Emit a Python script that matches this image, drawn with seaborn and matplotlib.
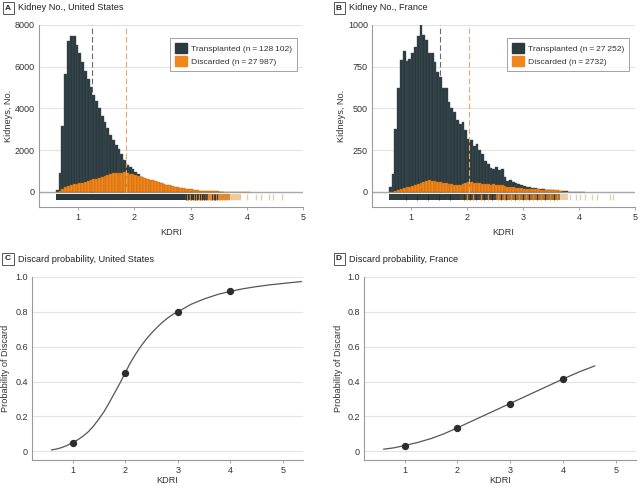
import numpy as np
import pandas as pd
import matplotlib
matplotlib.use("Agg")
import matplotlib.pyplot as plt
from matplotlib.patches import Patch
import seaborn as sns

sns.set_theme(style="white")
plt.rcParams['font.family'] = ['Liberation Sans Narrow', 'Liberation Sans', 'DejaVu Sans']

# ---------------- data ----------------
BIN_WIDTH = 0.05
BIN_START = 0.60

us_transplanted = [100, 900, 3150, 5650, 7250, 7480, 7450, 7050, 6650, 6250,
                   5800, 5400, 5050, 4650, 4350, 4000, 3650, 3350, 3050, 2750,
                   2500, 2250, 2050, 1800, 1550, 1300, 1200, 1100, 950, 850,
                   700, 600, 500, 420, 350, 300, 250, 210, 180, 150,
                   120, 100, 80, 70, 60, 50, 40, 30, 25, 20,
                   15, 12, 10, 8, 6, 5, 4, 3, 2, 2]
us_discarded = [10, 40, 120, 220, 290, 340, 370, 390, 420, 450,
                480, 520, 560, 600, 640, 680, 720, 760, 800, 850,
                900, 920, 910, 930, 940, 920, 880, 850, 820, 780,
                740, 690, 640, 590, 550, 510, 470, 430, 390, 350,
                320, 290, 260, 230, 200, 180, 160, 140, 120, 100,
                85, 70, 60, 50, 40, 35, 30, 25, 20, 15,
                12, 10, 8, 6, 5, 4, 3, 2, 2]

fr_transplanted = [30, 110, 380, 620, 790, 845, 785, 795, 830, 870,
                   935, 1000, 940, 910, 830, 835, 780, 720, 690, 620,
                   620, 540, 500, 480, 430, 410, 420, 370, 315, 310,
                   275, 285, 250, 230, 185, 165, 145, 135, 148, 132,
                   140, 92, 68, 72, 62, 52, 45, 40, 35, 30,
                   28, 25, 22, 20, 18, 15, 14, 12, 10, 6,
                   5, 4, 3, 3, 2, 2, 2, 1, 1, 1]
fr_discarded = [0, 2, 5, 10, 15, 22, 28, 32, 38, 42,
                48, 55, 62, 68, 70, 66, 64, 60, 62, 56,
                54, 48, 45, 42, 40, 44, 48, 55, 62, 58,
                54, 56, 52, 50, 48, 46, 44, 46, 44, 42,
                40, 36, 32, 30, 28, 25, 24, 22, 20, 19,
                18, 16, 16, 15, 14, 14, 13, 12, 12, 10,
                9, 5, 2]

us_median = {"Transplanted": 1.24, "Discarded": 1.84}
fr_median = {"Transplanted": 1.51, "Discarded": 2.04}

us_legend = ["Transplanted (n\u2009=\u2009128\u2009102)", "Discarded (n\u2009=\u200927\u2009987)"]
fr_legend = ["Transplanted (n\u2009=\u200927\u2009252)", "Discarded (n\u2009=\u20092732)"]

# rug (individual kidneys): dense bands and sparse ticks
us_rug_bands = [(0.60, 2.90, "#2b3a3f"), (2.90, 3.30, "#4a4136"), (3.30, 3.70, "#d8893a"), (3.70, 3.90, "#f3cfa6")]
us_rug_dark = [2.92, 2.96, 3.00, 3.04, 3.08, 3.12, 3.16, 3.20, 3.24, 3.28, 3.38, 3.41, 3.44, 3.47]
us_rug_orange = [2.94, 2.99, 3.06, 3.10, 3.14, 3.19, 3.23, 3.27, 3.31, 3.34, 3.36, 3.43, 3.50, 3.53, 3.56, 3.60, 3.63, 3.66]
us_rug_pale = [3.72, 3.76, 3.80, 3.84, 3.88, 4.00, 4.16, 4.25, 4.40, 4.47, 4.62]

fr_rug_bands = [(0.60, 1.87, "#33403f"), (1.87, 2.52, "#4f4536"), (2.52, 3.66, "#a86f33"), (3.66, 3.80, "#e9cfa8")]
fr_rug_dark = [0.9, 1.1, 1.3, 1.5, 1.7, 1.95, 2.05, 2.15, 2.3, 2.45, 2.6, 2.7, 2.85, 3.0, 3.1, 3.25, 3.4, 3.55]
fr_rug_orange = [2.0, 2.1, 2.25, 2.38, 2.55, 2.65, 2.78, 2.92, 3.05, 3.18, 3.32, 3.48, 3.6]
fr_rug_pale = [3.84, 3.95, 4.02, 4.11, 4.23, 4.32, 4.55, 4.60]

us_curve_kdri = [0.6, 0.7, 0.8, 0.9, 1.0, 1.1, 1.2, 1.3, 1.4, 1.5, 1.6, 1.7, 1.8, 1.9, 2.0,
                 2.1, 2.2, 2.3, 2.4, 2.5, 2.6, 2.7, 2.8, 2.9, 3.0, 3.25, 3.5, 3.75, 4.0,
                 4.25, 4.5, 4.75, 5.0, 5.35]
us_curve_prob = [0.008, 0.013, 0.022, 0.034, 0.05, 0.066, 0.087, 0.112, 0.145, 0.185, 0.228, 0.28,
                 0.335, 0.39, 0.45, 0.508, 0.558, 0.603, 0.643, 0.678, 0.709, 0.738, 0.763, 0.784,
                 0.80, 0.843, 0.874, 0.899, 0.918, 0.933, 0.945, 0.955, 0.963, 0.974]
fr_curve_kdri = [0.6, 0.8, 1.0, 1.25, 1.5, 1.75, 2.0, 2.25, 2.5, 2.75, 3.0, 3.25, 3.5, 3.75, 4.0, 4.3, 4.6]
fr_curve_prob = [0.012, 0.02, 0.033, 0.051, 0.073, 0.101, 0.135, 0.17, 0.205, 0.24, 0.275, 0.31, 0.345, 0.38, 0.415, 0.455, 0.49]

point_kdri = [1, 2, 3, 4]
us_point_prob = [0.05, 0.45, 0.80, 0.92]
fr_point_prob = [0.033, 0.134, 0.274, 0.416]

DARK = "#2b3a3f"
ORANGE = "#f0861c"
GRID = "#e3e3e3"
SPINE = "#9a9a9a"
TXT = "#333333"

fig = plt.figure(figsize=(6.4, 4.88), dpi=100)
fig.patch.set_facecolor("white")

axA = fig.add_axes([39/640, 1-207/488, 264/640, 182/488])
axB = fig.add_axes([372/640, 1-207/488, 263/640, 182/488])
axC = fig.add_axes([32/640, 1-460/488, 271/640, 183/488])
axD = fig.add_axes([364/640, 1-460/488, 272/640, 183/488])


def style_axes(ax, yticks, ylabels, ylim, xlim, ylabel):
    ax.set_xlim(*xlim)
    ax.set_ylim(*ylim)
    ax.set_yticks(yticks)
    ax.set_yticklabels(ylabels)
    ax.set_xticks([1, 2, 3, 4, 5])
    ax.set_xticklabels(["1", "2", "3", "4", "5"])
    for t in yticks:
        ax.axhline(t, color=GRID, lw=0.8, zorder=0)
    for s in ["top", "right"]:
        ax.spines[s].set_visible(False)
    for s in ["left", "bottom"]:
        ax.spines[s].set_color(SPINE)
        ax.spines[s].set_linewidth(0.8)
    ax.tick_params(axis="y", length=0, pad=3, labelsize=6.5, labelcolor=TXT)
    ax.tick_params(axis="x", length=2.5, width=0.6, color=SPINE, pad=2, labelsize=6.5, labelcolor=TXT, bottom=True)
    ax.set_ylabel(ylabel, fontsize=6.6, color=TXT)
    ax.set_xlabel("KDRI", fontsize=6.6, color=TXT)


def hist_panel(ax, trans, disc, med, legend_labels, rug_bands, rug_dark, rug_orange, rug_pale, rug_y, ymax, yticks, ylabels):
    edges_t = [float(v) for v in BIN_START + BIN_WIDTH * np.arange(len(trans) + 1)]
    edges_d = [float(v) for v in BIN_START + BIN_WIDTH * np.arange(len(disc) + 1)]
    df_t = pd.DataFrame({"kdri": np.array(edges_t[:-1]) + BIN_WIDTH / 2, "n": trans})
    df_d = pd.DataFrame({"kdri": np.array(edges_d[:-1]) + BIN_WIDTH / 2, "n": disc})
    sns.histplot(data=df_t, x="kdri", weights="n", bins=edges_t, ax=ax, color=DARK, alpha=1,
                 edgecolor="#44535a", linewidth=0.3, zorder=2)
    sns.histplot(data=df_d, x="kdri", weights="n", bins=edges_d, ax=ax, color=ORANGE, alpha=1,
                 edgecolor="#b9600a", linewidth=0.3, zorder=3)
    style_axes(ax, yticks, ylabels, (-0.09 * ymax, ymax), (0.3, 5.0), "Kidneys, No.")
    ax.axhline(0, color="#a8a8a8", lw=1.0, zorder=1.5)
    ax.axvline(med["Transplanted"], ymin=0.083, ymax=1, color="#6a6a6a", lw=0.8, ls=(0, (5, 2.5)), zorder=1.8)
    ax.axvline(med["Discarded"], ymin=0.083, ymax=1, color="#e9a86a", lw=0.8, ls=(0, (5, 2.5)), zorder=4)
    y0, y1 = rug_y
    for a, b, c in rug_bands:
        ax.fill_between([a, b], y0, y1, color=c, lw=0, zorder=2)
    ax.vlines(rug_orange, y0, y1, color="#e58a2e", lw=1.0, alpha=0.9, zorder=2.5)
    ax.vlines(rug_dark, y0, y1, color="#222a2c", lw=0.8, alpha=0.8, zorder=2.6)
    ax.vlines(rug_pale, y0, y1, color="#e6c9a4", lw=1.0, alpha=0.9, zorder=2.6)
    handles = [Patch(facecolor=DARK, edgecolor=DARK), Patch(facecolor=ORANGE, edgecolor=ORANGE)]
    leg = ax.legend(handles, legend_labels, loc="upper right", bbox_to_anchor=(0.978, 0.93),
                    fontsize=6.1, frameon=True, fancybox=False, edgecolor="#8a8a8a",
                    handlelength=1.4, handleheight=1.4, handletextpad=0.5, borderpad=0.6,
                    labelspacing=0.45, borderaxespad=0)
    leg.get_frame().set_linewidth(0.7)
    for t in leg.get_texts():
        t.set_color(TXT)
    ax.yaxis.set_label_coords(-0.1, 0.5)
    ax.xaxis.set_label_coords(0.5, -0.115)


hist_panel(axA, us_transplanted, us_discarded, us_median, us_legend,
           us_rug_bands, us_rug_dark, us_rug_orange, us_rug_pale, (-380, -110), 8000,
           [0, 2000, 4000, 6000, 8000], ["0", "2000", "4000", "6000", "8000"])
hist_panel(axB, fr_transplanted, fr_discarded, fr_median, fr_legend,
           fr_rug_bands, fr_rug_dark, fr_rug_orange, fr_rug_pale, (-48, -12), 1000,
           [0, 250, 500, 750, 1000], ["0", "250", "500", "750", "1000"])


def prob_panel(ax, ck, cp, pp, ylab_x):
    sns.lineplot(x=ck, y=cp, ax=ax, color="#555555", lw=0.9, zorder=3)
    sns.scatterplot(x=point_kdri, y=pp, ax=ax, color="#2d2d2d", s=28, edgecolor="#2d2d2d", linewidth=0, zorder=4)
    style_axes(ax, [0, 0.2, 0.4, 0.6, 0.8, 1.0], ["0", "0.2", "0.4", "0.6", "0.8", "1.0"],
               (-0.05, 1.0), (0.23, 5.38), "Probability of Discard")
    ax.yaxis.set_label_coords(ylab_x, 0.5)
    ax.xaxis.set_label_coords(0.5, -0.087)


prob_panel(axC, us_curve_kdri, us_curve_prob, us_point_prob, -0.08)
prob_panel(axD, fr_curve_kdri, fr_curve_prob, fr_point_prob, -0.078)

# panel titles
titles = [("A", "Kidney No., United States", 8, 8),
          ("B", "Kidney No., France", 339, 8),
          ("C", "Discard probability, United States", 8, 259),
          ("D", "Discard probability, France", 339, 259)]
for letter, text, px, py in titles:
    fig.text(px / 640, 1 - py / 488, letter, fontsize=6, fontweight="bold", color="#222",
             ha="center", va="center",
             bbox=dict(boxstyle="square,pad=0.3", fc="white", ec="#555", lw=0.7))
    fig.text((px + 10) / 640, 1 - py / 488, text, fontsize=6.6, color="#222", ha="left", va="center")

fig.savefig("out.png", dpi=100, facecolor="white")
